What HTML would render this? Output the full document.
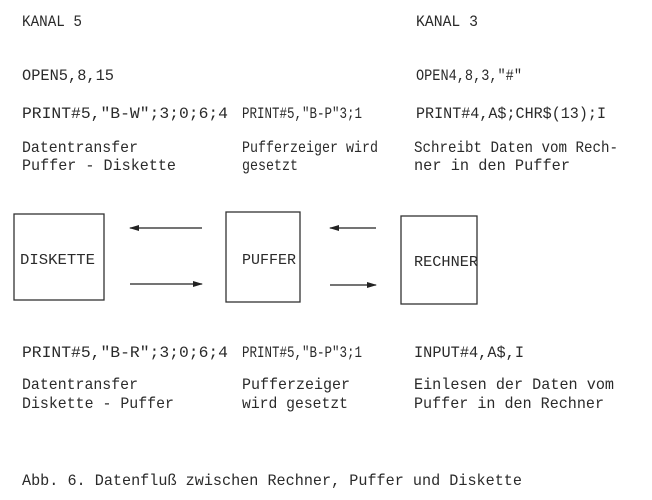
<!DOCTYPE html>
<html><head><meta charset="utf-8"><style>
html,body{margin:0;padding:0;background:#fff;}
svg{display:block;}
text{font-family:"Liberation Mono",monospace;font-size:16px;fill:#2a2a2a;}
</style></head><body>
<svg width="652" height="500" viewBox="0 0 652 500" xmlns="http://www.w3.org/2000/svg">
<defs><marker id="a" markerWidth="10" markerHeight="6" refX="9" refY="3" orient="auto" markerUnits="userSpaceOnUse"><path d="M0,0 L10,3 L0,6 Z" fill="#222"/></marker></defs>
<g>
<text x="22" y="26" textLength="60" lengthAdjust="spacingAndGlyphs">KANAL 5</text>
<text x="416" y="26" textLength="62" lengthAdjust="spacingAndGlyphs">KANAL 3</text>
<text x="22" y="80" textLength="92" lengthAdjust="spacingAndGlyphs">OPEN5,8,15</text>
<text x="416" y="80" textLength="106" lengthAdjust="spacingAndGlyphs">OPEN4,8,3,"#"</text>
<text x="22" y="118" textLength="206" lengthAdjust="spacingAndGlyphs">PRINT#5,"B-W";3;0;6;4</text>
<text x="242" y="118" textLength="120" lengthAdjust="spacingAndGlyphs">PRINT#5,"B-P"3;1</text>
<text x="416" y="118" textLength="190" lengthAdjust="spacingAndGlyphs">PRINT#4,A$;CHR$(13);I</text>
<text x="22" y="152" textLength="116" lengthAdjust="spacingAndGlyphs">Datentransfer</text>
<text x="22" y="170" textLength="154" lengthAdjust="spacingAndGlyphs">Puffer - Diskette</text>
<text x="242" y="152" textLength="136" lengthAdjust="spacingAndGlyphs">Pufferzeiger wird</text>
<text x="242" y="170" textLength="56" lengthAdjust="spacingAndGlyphs">gesetzt</text>
<text x="414" y="152" textLength="204" lengthAdjust="spacingAndGlyphs">Schreibt Daten vom Rech-</text>
<text x="414" y="170" textLength="156" lengthAdjust="spacingAndGlyphs">ner in den Puffer</text>

<rect x="14" y="214" width="90" height="86" fill="none" stroke="#333" stroke-width="1.3"/>
<rect x="226" y="212" width="74" height="90" fill="none" stroke="#333" stroke-width="1.3"/>
<rect x="401" y="216" width="76" height="88" fill="none" stroke="#333" stroke-width="1.3"/>
<text x="20" y="264" textLength="75" lengthAdjust="spacingAndGlyphs" style="font-size:15px">DISKETTE</text>
<text x="242" y="264" textLength="54" lengthAdjust="spacingAndGlyphs" style="font-size:15px">PUFFER</text>
<text x="414" y="266" textLength="64" lengthAdjust="spacingAndGlyphs" style="font-size:15px">RECHNER</text>
<line x1="202" y1="228" x2="130" y2="228" stroke="#222" stroke-width="1.3" marker-end="url(#a)"/>
<line x1="130" y1="284" x2="202" y2="284" stroke="#222" stroke-width="1.3" marker-end="url(#a)"/>
<line x1="376" y1="228" x2="330" y2="228" stroke="#222" stroke-width="1.3" marker-end="url(#a)"/>
<line x1="330" y1="285" x2="376" y2="285" stroke="#222" stroke-width="1.3" marker-end="url(#a)"/>

<text x="22" y="357" textLength="206" lengthAdjust="spacingAndGlyphs">PRINT#5,"B-R";3;0;6;4</text>
<text x="242" y="357" textLength="120" lengthAdjust="spacingAndGlyphs">PRINT#5,"B-P"3;1</text>
<text x="414" y="357" textLength="110" lengthAdjust="spacingAndGlyphs">INPUT#4,A$,I</text>
<text x="22" y="389" textLength="116" lengthAdjust="spacingAndGlyphs">Datentransfer</text>
<text x="22" y="408" textLength="152" lengthAdjust="spacingAndGlyphs">Diskette - Puffer</text>
<text x="242" y="389" textLength="108" lengthAdjust="spacingAndGlyphs">Pufferzeiger</text>
<text x="242" y="408" textLength="106" lengthAdjust="spacingAndGlyphs">wird gesetzt</text>
<text x="414" y="389" textLength="200" lengthAdjust="spacingAndGlyphs">Einlesen der Daten vom</text>
<text x="414" y="408" textLength="190" lengthAdjust="spacingAndGlyphs">Puffer in den Rechner</text>
<text x="22" y="485" textLength="500" lengthAdjust="spacingAndGlyphs">Abb. 6. Datenfluß zwischen Rechner, Puffer und Diskette</text>
</g>
</svg>
</body></html>
